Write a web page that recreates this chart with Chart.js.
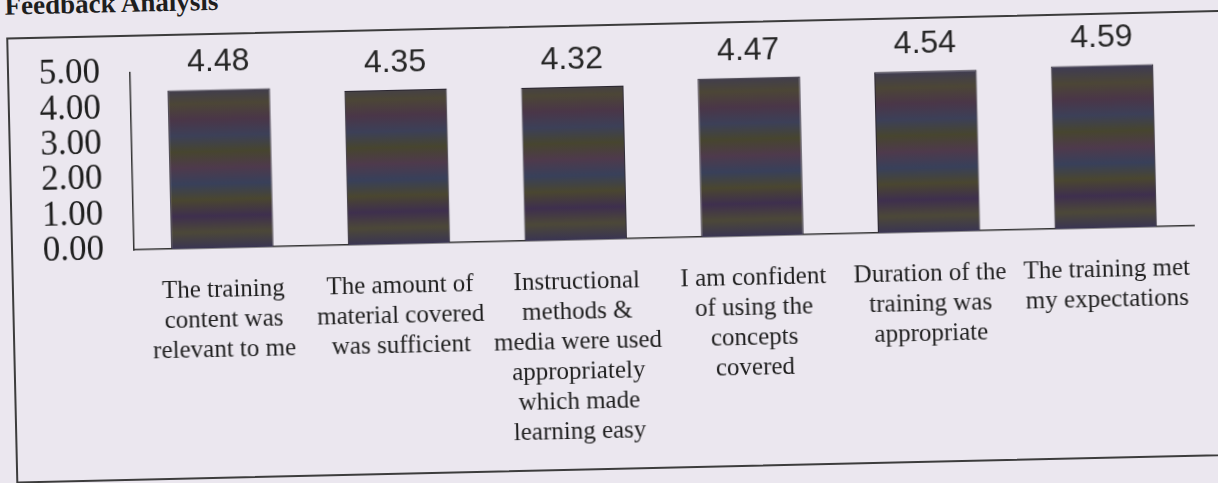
<!DOCTYPE html>
<html>
<head>
<meta charset="utf-8">
<title>Feedback Analysis</title>
<script src="https://cdn.jsdelivr.net/npm/chart.js@4.4.0/dist/chart.umd.min.js"></script>
<style>
  html, body { margin: 0; padding: 0; background: #ebe7ef; overflow: hidden; }
  #page {
    position: relative; width: 1218px; height: 483px;
    transform: rotate(-1.3deg); transform-origin: 609px 241.5px;
  }
  #title {
    position: absolute; left: 10px; top: -21px;
    font: bold 27px "Liberation Serif", "Times New Roman", serif;
    line-height: 27px; color: #1e1e1e; white-space: nowrap;
  }
  #frame {
    position: absolute; left: 11px; top: 24px; width: 1300px; height: 446px;
    border: 2px solid #3c3c3c; box-sizing: border-box;
  }
  #chart { position: absolute; left: 0; top: 0; }
</style>
</head>
<body>
<div id="page">
  <div id="title">Feedback Analysis</div>
  <div id="frame"></div>
  <canvas id="chart" width="1218" height="483"></canvas>
</div>
<script>
// data
const categories = [
  ["The training", "content was", "relevant to me"],
  ["The amount of", "material covered", "was sufficient"],
  ["Instructional", "methods &", "media were used", "appropriately", "which made", "learning easy"],
  ["I am confident", "of using the", "concepts", "covered"],
  ["Duration of the", "training was", "appropriate"],
  ["The training met", "my expectations"]
];
const scores = [4.48, 4.35, 4.32, 4.47, 4.54, 4.59];
const yTicks = [0, 1, 2, 3, 4, 5];

// banded dark fill, like the printed/scanned bars
const bandColors = ["#4a4258", "#3f3c52", "#4c4636", "#4a3648", "#3c4058", "#47452f",
                    "#4e3a4c", "#38405a", "#4a4630", "#3e2f4e", "#4c4838", "#3a3552"];

const valueLabels = {
  id: "valueLabels",
  afterDatasetsDraw(chart) {
    const ctx = chart.ctx;
    const meta = chart.getDatasetMeta(0);
    ctx.save();
    ctx.font = '32px "Liberation Sans", Arial, sans-serif';
    ctx.fillStyle = "#262626";
    ctx.textAlign = "center";
    ctx.textBaseline = "middle";
    meta.data.forEach((bar, i) => {
      ctx.fillText(scores[i].toFixed(2), bar.x, bar.y - 27);
    });
    ctx.restore();
  }
};

new Chart(document.getElementById("chart"), {
  type: "bar",
  data: {
    labels: categories,
    datasets: [{
      data: scores,
      backgroundColor: (c) => {
        const area = c.chart.chartArea;
        if (!area) return "#433c4c";
        const g = c.chart.ctx.createLinearGradient(0, area.top, 0, area.bottom);
        bandColors.forEach((col, k) => g.addColorStop(k / (bandColors.length - 1), col));
        return g;
      },
      borderColor: "#2a2630",
      borderWidth: 1,
      barPercentage: 0.58,
      categoryPercentage: 1.0
    }]
  },
  options: {
    responsive: false,
    animation: false,
    devicePixelRatio: 1,
    layout: { padding: { left: 43, top: 62, right: 21, bottom: 37 } },
    plugins: {
      legend: { display: false },
      tooltip: { enabled: false }
    },
    scales: {
      x: {
        grid: { display: false, drawTicks: false },
        border: { display: true, color: "#333", width: 1.5 },
        ticks: {
          color: "#1f1f1f",
          padding: 27,
          maxRotation: 0,
          autoSkip: false,
          font: { family: '"Liberation Serif", "Times New Roman", serif', size: 25, lineHeight: 1.2 }
        },
        afterFit: (s) => { s.height = 207; }
      },
      y: {
        min: 0,
        max: 5,
        afterBuildTicks: (s) => { s.ticks = yTicks.map(v => ({ value: v })); },
        grid: { display: false, drawTicks: false },
        border: { display: true, color: "#333", width: 1.5 },
        ticks: {
          color: "#1f1f1f",
          padding: 30,
          autoSkip: false,
          callback: (v) => Number(v).toFixed(2),
          font: { family: '"Liberation Serif", "Times New Roman", serif', size: 35 }
        },
        afterFit: (s) => { s.width = 91; }
      }
    }
  },
  plugins: [valueLabels]
});
</script>
</body>
</html>
